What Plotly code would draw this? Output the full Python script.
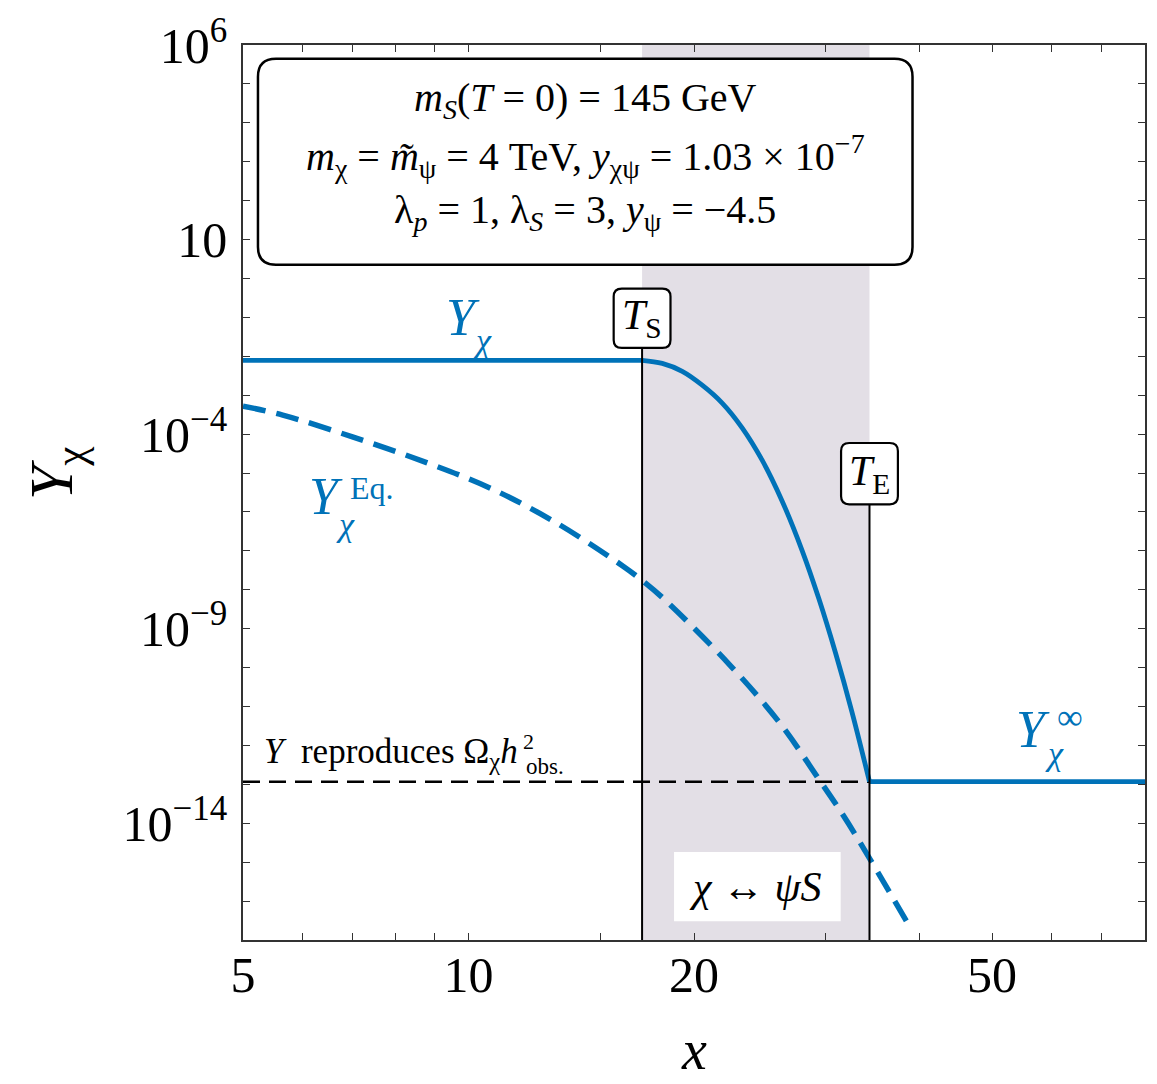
import math
import plotly.graph_objects as go

# ---- data -------------------------------------------------------------
# Equilibrium yield Y_chi^Eq.(x)
yeq_x = [5.0, 5.65, 7.0, 8.7, 10.7, 13.1, 16.1, 17.05, 18.2, 22.3, 26.1, 29.2, 31.7, 34.4, 39.0]
yeq_y = [5.25e-4, 3.09e-4, 8.5e-5, 2.0e-5, 4.07e-6, 5.25e-7, 3.98e-8, 1.74e-8, 6.0e-9,
         1.2e-10, 3.55e-12, 1.58e-13, 1.51e-14, 1.15e-15, 1.86e-17]

# Actual yield Y_chi(x): frozen before T_S, depleted by chi <-> psi S until T_E
x_S = 17.05
x_E = 34.3
Y_start = 7.9e-3
Y_obs = 1.17e-13
decay_x = [18.14, 19.29, 20.51, 21.81, 23.19, 24.65, 26.21, 27.87, 29.36, 30.93, 32.49]
decay_y = [6.56e-3, 4.10e-3, 1.81e-3, 6.28e-4, 1.45e-4, 2.17e-5, 1.95e-6, 1.05e-7,
           5.85e-9, 2.24e-10, 7.43e-12]
x_min, x_max = 5.0, 80.0

# Axis ticks
x_ticks = [5, 6, 7, 8, 9, 10, 15, 20, 30, 40, 50, 60, 70, 80]
x_labels = {5: "5", 10: "10", 20: "20", 50: "50"}
y_exps = list(range(-17, 7))
y_labels = {6: "10<sup>6</sup>", 1: "10", -4: "10<sup>−4</sup>",
            -9: "10<sup>−9</sup>", -14: "10<sup>−14</sup>"}

BLUE = "#0072b8"
SHADE = "#e3dfe6"
FONT = "Liberation Serif"

# ---- figure -----------------------------------------------------------
fig = go.Figure()

# observed relic-abundance reference line
fig.add_trace(go.Scatter(x=[x_min, x_E], y=[Y_obs, Y_obs], mode="lines",
                         line=dict(color="black", width=2.5, dash="17px,9px"),
                         hoverinfo="skip"))

# equilibrium curve
fig.add_trace(go.Scatter(x=yeq_x, y=yeq_y, mode="lines",
                         line=dict(color=BLUE, width=5.5, dash="23px,11px", shape="spline"),
                         hoverinfo="skip"))

# Y_chi: flat, decaying, flat
fig.add_trace(go.Scatter(x=[x_min, x_S], y=[Y_start, Y_start], mode="lines",
                         line=dict(color=BLUE, width=4.8), hoverinfo="skip"))
fig.add_trace(go.Scatter(x=[x_S] + decay_x + [x_E], y=[Y_start] + decay_y + [Y_obs],
                         mode="lines", line=dict(color=BLUE, width=4.8, shape="spline",
                                                 smoothing=1.0),
                         hoverinfo="skip"))
fig.add_trace(go.Scatter(x=[x_E, x_max], y=[Y_obs, Y_obs], mode="lines",
                         line=dict(color=BLUE, width=4.8), hoverinfo="skip"))


def xpaper(x):
    return (math.log10(x) - math.log10(x_min)) / (math.log10(x_max) - math.log10(x_min))


def rounded_box(x0, y0, x1, y1, r):
    return (f"M{x0 + r},{y0} L{x1 - r},{y0} Q{x1},{y0} {x1},{y0 + r} "
            f"L{x1},{y1 - r} Q{x1},{y1} {x1 - r},{y1} L{x0 + r},{y1} "
            f"Q{x0},{y1} {x0},{y1 - r} L{x0},{y0 + r} Q{x0},{y0} {x0 + r},{y0} Z")


# plot area is a 904 x 904 px square starting at (243, 36)
def px(xp):
    return (xp - 243) / 904


def py(yp):
    return (940 - yp) / 904


shapes = []
# shaded chi <-> psi S window
shapes.append(dict(type="rect", xref="x", yref="paper", x0=x_S, x1=x_E, y0=0, y1=1,
                   fillcolor=SHADE, line=dict(width=0), layer="below"))
# T_S and T_E markers
ts_top, te_top = py(342), py(500)
for xv, top in [(x_S, ts_top), (x_E, te_top)]:
    shapes.append(dict(type="line", xref="x", yref="paper", x0=xv, x1=xv, y0=0, y1=top,
                       line=dict(color="black", width=2)))

# parameter box
shapes.append(dict(type="path", xref="paper", yref="paper",
                   path=rounded_box(px(258), py(258), px(914), py(50), 0.02),
                   fillcolor="white", line=dict(color="black", width=2.5), layer="above"))
# T labels boxes
for xv, y0, y1 in [(x_S, py(342), py(282)), (x_E, py(500), py(438))]:
    xc = xpaper(xv)
    w = 0.0315
    shapes.append(dict(type="path", xref="paper", yref="paper",
                       path=rounded_box(xc - w, y0, xc + w, y1, 0.009),
                       fillcolor="white", line=dict(color="black", width=2.2), layer="above"))
# white label background in shaded window
shapes.append(dict(type="rect", xref="paper", yref="paper", x0=px(675), x1=px(842),
                   y0=py(921), y1=py(851), fillcolor="white", line=dict(width=0),
                   layer="above"))

annotations = []


def text(x, y, s, size, color="black", xanchor="center", yanchor="middle", angle=0):
    annotations.append(dict(x=x, y=y, xref="paper", yref="paper", text=s, showarrow=False,
                            xanchor=xanchor, yanchor=yanchor, textangle=angle,
                            font=dict(family=FONT, size=size, color=color)))


# parameter box text
text(px(586), py(92), "<i>m<sub>S</sub></i>(<i>T</i> = 0) = 145 GeV", 40)
text(px(586), py(148), "<i>m</i><sub>χ</sub> = <i>m̃</i><sub>ψ</sub> = 4 TeV, "
                       "<i>y</i><sub>χψ</sub> = 1.03 × 10<sup>−7</sup>", 40)
text(px(586), py(205), "λ<sub><i>p</i></sub> = 1, λ<sub><i>S</i></sub> = 3, "
                       "<i>y</i><sub>ψ</sub> = −4.5", 40)

# T labels
text(xpaper(x_S), py(312), "<i>T</i><sub>S</sub>", 42)
text(xpaper(x_E), py(469), "<i>T</i><sub>E</sub>", 42)

# curve labels (stacked super/subscripts placed individually)
text(px(463), py(311), "<i>Y</i>", 52, BLUE)
text(px(483), py(334), "<i>χ</i>", 34, BLUE)

text(px(326), py(492), "<i>Y</i>", 52, BLUE)
text(px(372), py(483), "Eq.", 32, BLUE)
text(px(346), py(520), "<i>χ</i>", 34, BLUE)

text(px(1035), py(727), "<i>Y</i>", 52, BLUE)
text(px(1072), py(715), "∞", 36, BLUE)
text(px(1056), py(752), "<i>χ</i>", 34, BLUE)

text(px(262), py(752), "<i>Y</i>  reproduces Ω<sub>χ</sub><i>h</i>", 35, xanchor="left")
text(px(529), py(740), "2", 22)
text(px(546), py(765), "obs.", 23)

text(px(757), py(886), "<i>χ</i> ↔ <i>ψS</i>", 42)

# axis titles
text(px(55), py(468), "<i>Y</i><sub>χ</sub>", 62, angle=-90)
text(px(695), py(1084), "<i>x</i>", 56, yanchor="bottom")

axis_common = dict(showline=True, linecolor="#333333", linewidth=1.6, mirror="allticks",
                   ticks="inside", ticklen=7, tickwidth=1.3, tickcolor="#333333",
                   showgrid=False, zeroline=False,
                   tickfont=dict(family=FONT, size=50, color="black"))

fig.update_layout(
    width=1157, height=1084,
    margin=dict(l=243, r=10, t=36, b=144),
    paper_bgcolor="white", plot_bgcolor="white",
    showlegend=False,
    shapes=shapes, annotations=annotations,
    xaxis=dict(type="log", range=[math.log10(x_min), math.log10(x_max)],
               tickvals=x_ticks, ticktext=[x_labels.get(v, "") for v in x_ticks],
               ticklabelstandoff=-10, **axis_common),
    yaxis=dict(type="log", range=[-17, 6],
               tickvals=[10.0 ** e for e in y_exps],
               ticktext=[y_labels.get(e, "") for e in y_exps],
               ticklabelstandoff=4, **axis_common),
)

fig.write_html("out.html")
